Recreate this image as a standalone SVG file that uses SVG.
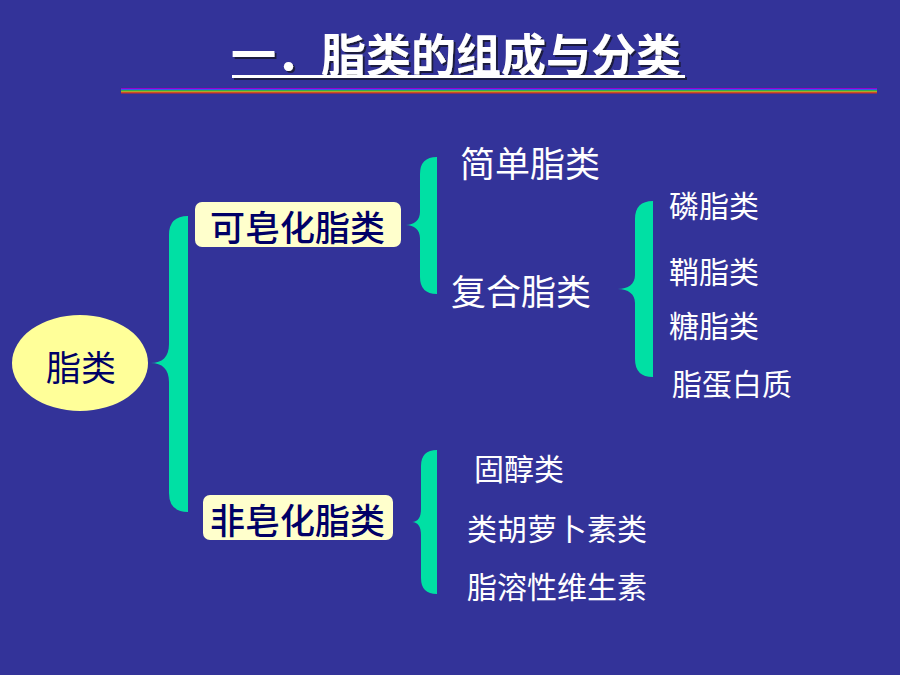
<svg xmlns="http://www.w3.org/2000/svg" width="900" height="675" viewBox="0 0 900 675">
  <style>
    .cjk { font-family: "Noto Sans CJK SC", "Noto Sans", sans-serif; }
    .lbl { font-family: "Noto Sans CJK SC", "Noto Sans", sans-serif; fill: #ffffff; }
    .dark { font-family: "Noto Sans CJK SC", "Noto Sans", sans-serif; fill: #000066; font-weight: 500; }
    .brace { fill: #00e0a4; }
    .box { fill: #ffffcc; }
  </style>
  <defs>
    <filter id="shadow" x="-5%" y="-20%" width="110%" height="140%">
      <feDropShadow dx="2" dy="2" stdDeviation="0.4" flood-color="#1c1c40" flood-opacity="1"/>
    </filter>
  </defs>
  <rect x="0" y="0" width="900" height="675" fill="#333399"/>

  <g id="title" filter="url(#shadow)">
    <text class="cjk" x="231" y="71.5" font-size="45" font-weight="bold" fill="#ffffff">一．脂类的组成与分类</text>
    <rect x="232" y="75" width="453" height="3" fill="#ffffff"/>
  </g>

  <g id="rule">
    <rect x="121" y="88" width="756" height="1.2" fill="#9900cc"/>
    <rect x="121" y="89.2" width="756" height="1" fill="#3366ff"/>
    <rect x="121" y="90.2" width="756" height="1.2" fill="#33cc33"/>
    <rect x="121" y="91.4" width="756" height="1" fill="#ffcc00"/>
    <rect x="121" y="92.4" width="756" height="1" fill="#ff3300"/>
  </g>

  <g id="connectors">
    <path class="brace" d="M188,216 L188,512 Q169,512 169,493 L169,382 C169,369 162,363 151,363 C162,363 169,357 169,344 L169,235 Q169,216 188,216 Z"/>
    <path class="brace" d="M437,157 L437,294 Q420,294 420,277 L420,238 C420,230 414,225 406,225 C414,225 420,220 420,212 L420,174 Q420,157 437,157 Z"/>
    <path class="brace" d="M653,201 L653,377 Q635,377 635,359 L635,303 C635,294 628,289 618,289 C628,289 635,284 635,275 L635,219 Q635,201 653,201 Z"/>
    <path class="brace" d="M437,450 L437,594 Q421,594 421,578 L421,535 C421,527 418,522 412,522 C418,522 421,517 421,509 L421,466 Q421,450 437,450 Z"/>
  </g>

  <g id="node-lipid">
    <ellipse cx="80" cy="363" rx="68" ry="48" fill="#ffff99"/>
    <text class="dark" x="46" y="381" font-size="35" font-weight="normal" style="font-weight:normal">脂类</text>
  </g>

  <g id="node-saponifiable">
    <rect class="box" x="195" y="202" width="206" height="45" rx="7"/>
    <text class="dark" x="210" y="241" font-size="35">可皂化脂类</text>
  </g>

  <g id="node-nonsaponifiable">
    <rect class="box" x="203" y="495" width="190" height="45" rx="7"/>
    <text class="dark" x="210" y="534" font-size="35">非皂化脂类</text>
  </g>

  <g id="node-simple"><text class="lbl" x="460" y="177" font-size="35">简单脂类</text></g>
  <g id="node-compound"><text class="lbl" x="451" y="305" font-size="35">复合脂类</text></g>
  <g id="node-phospholipid"><text class="lbl" x="669" y="217" font-size="30">磷脂类</text></g>
  <g id="node-sphingolipid"><text class="lbl" x="669" y="283" font-size="30">鞘脂类</text></g>
  <g id="node-glycolipid"><text class="lbl" x="669" y="337" font-size="30">糖脂类</text></g>
  <g id="node-lipoprotein"><text class="lbl" x="672" y="395" font-size="30">脂蛋白质</text></g>
  <g id="node-sterol"><text class="lbl" x="474" y="480" font-size="30">固醇类</text></g>
  <g id="node-carotenoid"><text class="lbl" x="467" y="540" font-size="30">类胡萝卜素类</text></g>
  <g id="node-vitamin"><text class="lbl" x="467" y="598" font-size="30">脂溶性维生素</text></g>
</svg>
